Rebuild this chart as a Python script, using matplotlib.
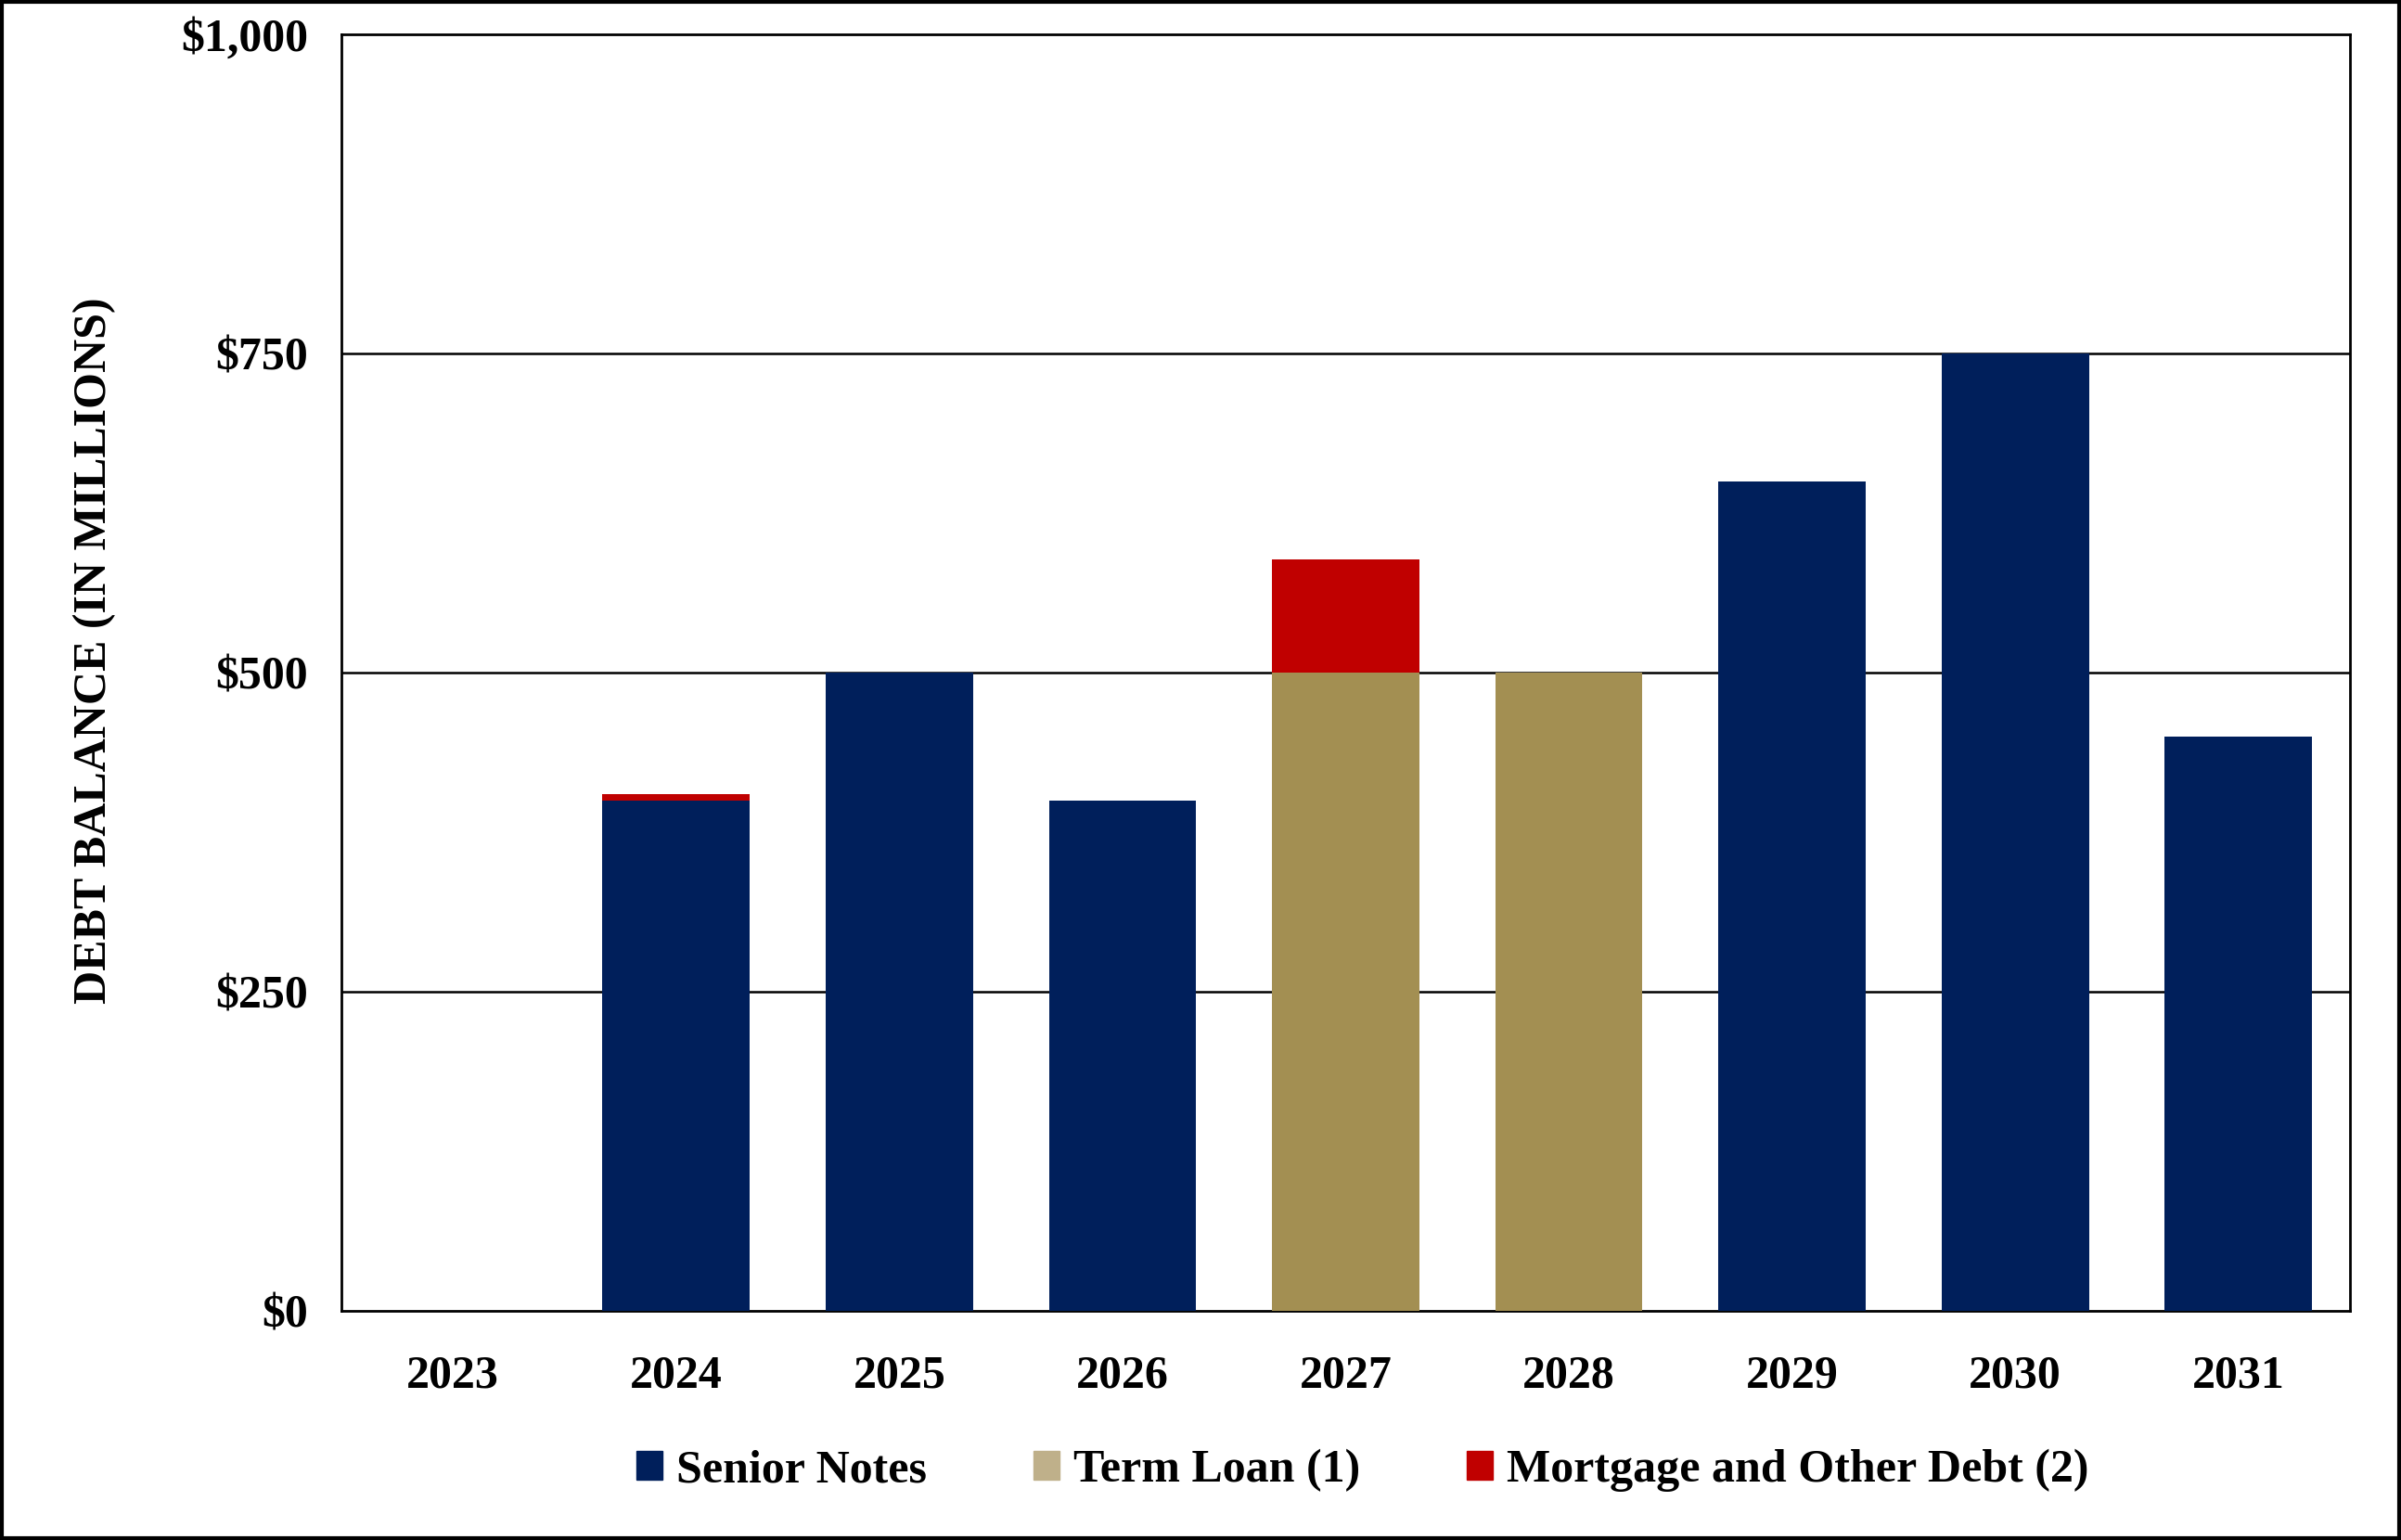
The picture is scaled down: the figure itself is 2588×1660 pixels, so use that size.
import numpy as np
import matplotlib.pyplot as plt
from matplotlib.patches import Patch, Rectangle

years = ['2023', '2024', '2025', '2026', '2027', '2028', '2029', '2030', '2031']
senior_notes = [0, 400, 500, 400, 0, 0, 650, 750, 450]
term_loan = [0, 0, 0, 0, 500, 500, 0, 0, 0]
mortgage_other = [0, 5, 0, 0, 89, 0, 0, 0, 0]
y_ticks = [0, 250, 500, 750, 1000]
y_labels = ['$0', '$250', '$500', '$750', '$1,000']

NAVY = '#001F5B'
GOLD = '#A38F52'
GOLD_LEGEND = '#BFB08A'
RED = '#C00000'

plt.rcParams['font.family'] = ['Liberation Serif', 'DejaVu Serif']
plt.rcParams['font.weight'] = 'bold'

fig = plt.figure(figsize=(25.88, 16.60), dpi=100)
ax = fig.add_axes([368 / 2588, 1 - 1413 / 1660, (2533 - 368) / 2588, (1413 - 37) / 1660])

x = np.arange(len(years))
w = 0.66
sn = np.array(senior_notes)
tl = np.array(term_loan)
mo = np.array(mortgage_other)
ax.bar(x, sn, w, color=NAVY, zorder=3)
ax.bar(x, tl, w, bottom=sn, color=GOLD, zorder=3)
ax.bar(x, mo, w, bottom=sn + tl, color=RED, zorder=3)

ax.set_xlim(-0.5, len(years) - 0.5)
ax.set_ylim(0, 1000)
ax.set_yticks(y_ticks)
ax.set_yticklabels(y_labels)
ax.set_xticks(x)
ax.set_xticklabels(years)
ax.tick_params(axis='both', length=0, labelsize=36)
ax.tick_params(axis='x', pad=34)
ax.tick_params(axis='y', pad=26)
for lab in ax.get_xticklabels() + ax.get_yticklabels():
    lab.set_fontweight('bold')

for v in [250, 500, 750]:
    ax.axhline(v, color='black', lw=1.8, zorder=2)
for s in ax.spines.values():
    s.set_color('black')
    s.set_linewidth(2)

# y axis title, placed where it sits in the original
fig.text(102 / 2588, 1 - 701 / 1660, 'DEBT BALANCE (IN MILLIONS)', rotation=90,
         ha='center', va='center', fontsize=36, fontweight='bold')

handles = [Patch(color=NAVY), Patch(color=GOLD_LEGEND), Patch(color=RED)]
fig.legend(handles, ['Senior Notes', 'Term Loan (1)', 'Mortgage and Other Debt (2)'],
           loc='center', bbox_to_anchor=(890 / 1568, 1 - 1585 / 1660), ncol=3, frameon=False,
           prop={'family': 'Liberation Serif', 'weight': 'bold', 'size': 36},
           handlelength=0.56, handleheight=0.56, handletextpad=0.3, columnspacing=2.3)

fig.patches.append(Rectangle((0.0008, 0.0012), 0.9984, 0.9976, transform=fig.transFigure,
                             fill=False, edgecolor='black', linewidth=3))

fig.savefig('out.png', dpi=100)
